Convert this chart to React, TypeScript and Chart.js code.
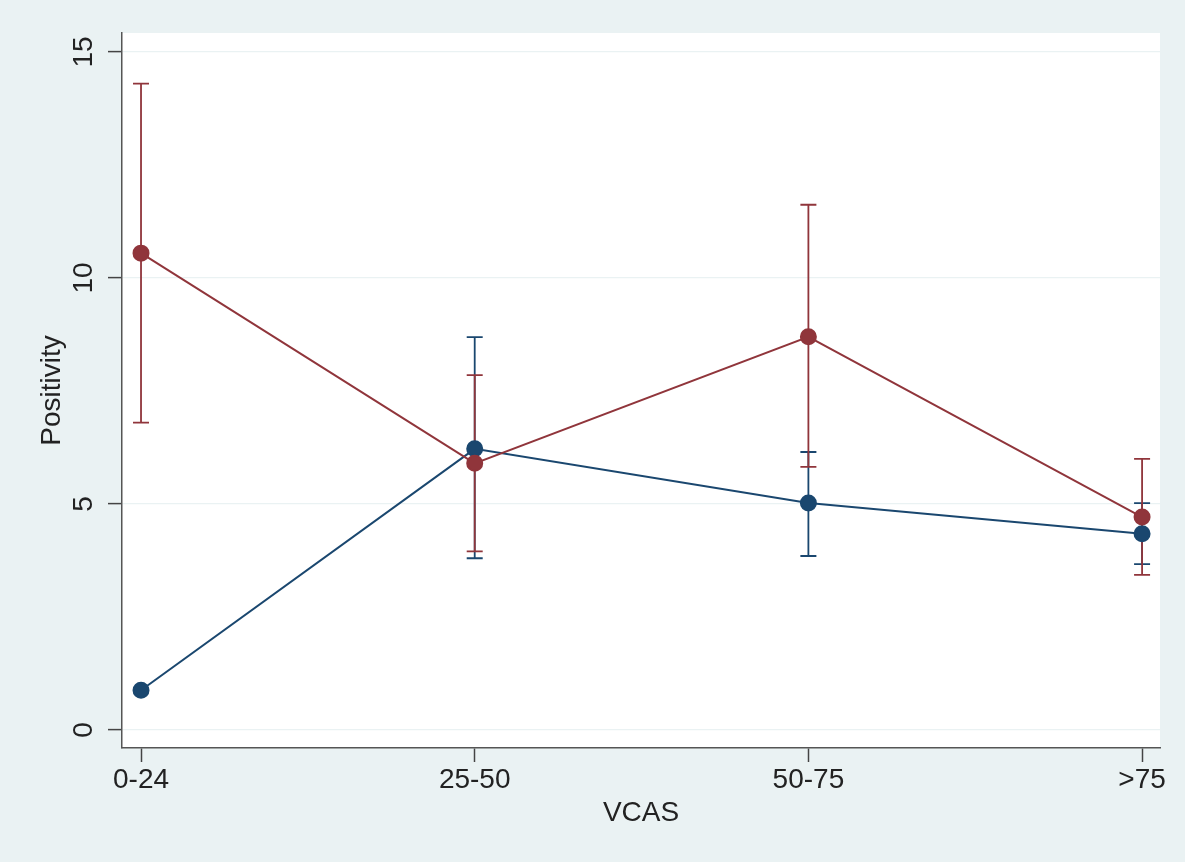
import React, { useEffect, useRef } from "react";
import { Chart, registerables } from "chart.js";

Chart.register(...registerables);

const categories = ["0-24", "25-50", "50-75", ">75"];
const redValues = [10.55, 5.9, 8.7, 4.71];
const redLower = [6.8, 3.95, 5.82, 3.43];
const redUpper = [14.3, 7.85, 11.62, 6.0];
const blueValues = [0.88, 6.22, 5.02, 4.34];
const blueLower: (number | null)[] = [null, 3.8, 3.85, 3.67];
const blueUpper: (number | null)[] = [null, 8.69, 6.15, 5.02];
const yTicks = [0, 5, 10, 15];

const RED = "#90353b";
const BLUE = "#1a476f";
const BG = "#eaf2f3";
const FONT = "'Liberation Sans', Arial, sans-serif";

const errorBars = [
  { lower: blueLower, upper: blueUpper, color: BLUE },
  { lower: redLower, upper: redUpper, color: RED },
];

const bgPlugin = {
  id: "bgPlugin",
  beforeDraw(chart: any) {
    const { ctx, chartArea } = chart;
    ctx.save();
    ctx.fillStyle = BG;
    ctx.fillRect(0, 0, chart.width, chart.height);
    ctx.fillStyle = "#ffffff";
    ctx.fillRect(chartArea.left, chartArea.top, chartArea.right - chartArea.left, chartArea.bottom - chartArea.top);
    ctx.restore();
  },
};

const errorBarPlugin = {
  id: "errorBarPlugin",
  beforeDatasetsDraw(chart: any) {
    const { ctx } = chart;
    const xs = chart.scales.x;
    const ys = chart.scales.y;
    ctx.save();
    ctx.lineWidth = 1.8;
    errorBars.forEach((s) => {
      ctx.strokeStyle = s.color;
      s.lower.forEach((lo, i) => {
        const hi = s.upper[i];
        if (lo == null || hi == null) return;
        const x = xs.getPixelForValue(i);
        const yl = ys.getPixelForValue(lo);
        const yh = ys.getPixelForValue(hi);
        ctx.beginPath();
        ctx.moveTo(x, yl);
        ctx.lineTo(x, yh);
        ctx.moveTo(x - 8, yl);
        ctx.lineTo(x + 8, yl);
        ctx.moveTo(x - 8, yh);
        ctx.lineTo(x + 8, yh);
        ctx.stroke();
      });
    });
    ctx.restore();
  },
};

export default function App() {
  const ref = useRef<HTMLCanvasElement | null>(null);
  useEffect(() => {
    if (!ref.current) return;
    const chart = new Chart(ref.current, {
      type: "line",
      data: {
        datasets: [
          {
            label: "red",
            data: redValues.map((v, i) => ({ x: i, y: v })),
            borderColor: RED,
            backgroundColor: RED,
            pointBackgroundColor: RED,
            pointBorderColor: RED,
            pointRadius: 7.5,
            borderWidth: 2,
            tension: 0,
          },
          {
            label: "blue",
            data: blueValues.map((v, i) => ({ x: i, y: v })),
            borderColor: BLUE,
            backgroundColor: BLUE,
            pointBackgroundColor: BLUE,
            pointBorderColor: BLUE,
            pointRadius: 7.5,
            borderWidth: 2,
            tension: 0,
          },
        ],
      },
      options: {
        responsive: false,
        animation: false,
        devicePixelRatio: 1,
        layout: { padding: { top: 33, right: 25, left: 0, bottom: 0 } },
        plugins: { legend: { display: false }, tooltip: { enabled: false } },
        scales: {
          x: {
            type: "linear",
            min: -0.057,
            max: 3.0537,
            afterBuildTicks: (axis: any) => {
              axis.ticks = categories.map((_, i) => ({ value: i }));
            },
            afterFit: (axis: any) => {
              axis.height = 114;
            },
            grid: {
              drawOnChartArea: false,
              drawTicks: true,
              tickLength: 14,
              tickColor: "#444",
              tickWidth: 1.5,
            },
            border: { display: true, color: "#555", width: 1.5 },
            ticks: {
              padding: 1,
              maxRotation: 0,
              minRotation: 0,
              autoSkip: false,
              color: "#222",
              font: { family: FONT, size: 28 },
              callback: (v: any) => categories[Math.round(Number(v))] ?? "",
            },
            title: {
              display: true,
              text: "VCAS",
              color: "#222",
              font: { family: FONT, size: 28 },
              padding: { top: 0, bottom: 32 },
            },
          },
          y: {
            type: "linear",
            min: -0.398,
            max: 15.42,
            afterBuildTicks: (axis: any) => {
              axis.ticks = yTicks.map((v) => ({ value: v }));
            },
            afterFit: (axis: any) => {
              axis.width = 122;
            },
            grid: {
              drawOnChartArea: true,
              color: BG,
              lineWidth: 1.2,
              drawTicks: true,
              tickLength: 14,
              tickColor: "#444",
              tickWidth: 1.5,
            },
            border: { display: true, color: "#555", width: 1.5 },
            ticks: {
              padding: 8,
              minRotation: 90,
              maxRotation: 90,
              crossAlign: "center",
              color: "#222",
              font: { family: FONT, size: 28 },
              callback: (v: any) => String(v),
            },
            title: {
              display: true,
              text: "Positivity",
              color: "#222",
              font: { family: FONT, size: 28 },
              padding: { top: 35, bottom: 0 },
            },
          },
        },
      },
      plugins: [bgPlugin, errorBarPlugin],
    } as any);
    return () => chart.destroy();
  }, []);
  return (
    <div style={{ position: "absolute", left: 0, top: 0, width: 1185, height: 862, background: BG }}>
      <canvas ref={ref} width={1185} height={862} style={{ display: "block" }} />
    </div>
  );
}
